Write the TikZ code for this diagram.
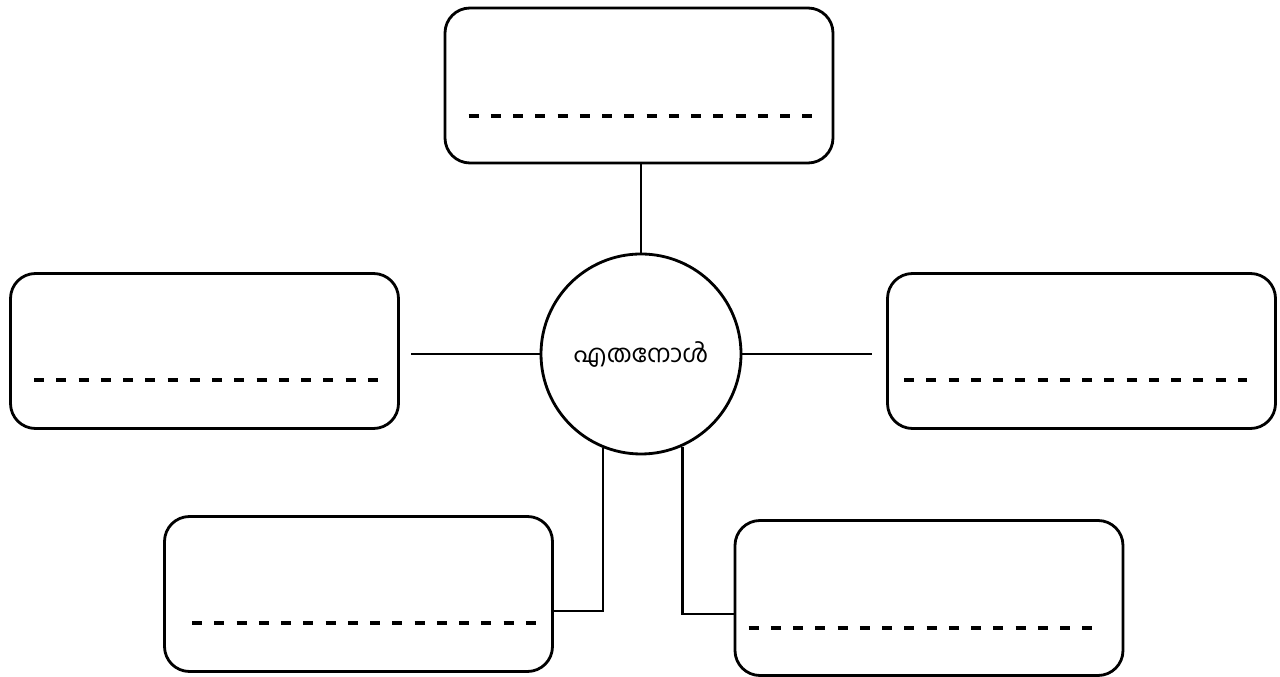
\documentclass[tikz,border=0pt]{standalone}
\usepackage{fontspec}
\newfontfamily\malfont[Script=Malayalam]{Hind Kochi}
\usepackage{tikz}
\usetikzlibrary{calc}

\begin{document}
\begin{tikzpicture}[line width=1.6pt,
    box/.style={draw, rounded corners=0.5cm, minimum width=7.76cm, minimum height=3.1cm},
    blank/.style={dash pattern=on 0.2cm off 0.245cm, line width=2pt}]
    \useasboundingbox (0,0) rectangle (25.6,13.54);
    \node[draw, circle, minimum size=4cm, inner sep=0pt, font=\malfont\fontsize{14}{17}\selectfont] (c) at (12.82,6.46) {എതനോൾ};
    \node[box] (top) at (12.78,11.83) {};
    \node[box] (left) at (4.09,6.52) {};
    \node[box] (right) at (21.63,6.52) {};
    \node[box] (bl) at (7.17,1.66) {};
    \node[box] (br) at (18.58,1.58) {};
    % blanks to fill in
    \draw[blank] ($(top.west)+(0.5,-0.61)$) -- ($(top.east)+(-0.42,-0.61)$);
    \draw[blank] ($(left.west)+(0.5,-0.58)$) -- ($(left.east)+(-0.42,-0.58)$);
    \draw[blank] ($(right.west)+(0.36,-0.58)$) -- ($(right.east)+(-0.6,-0.58)$);
    \draw[blank] ($(bl.west)+(0.58,-0.58)$) -- ($(bl.east)+(-0.3,-0.58)$);
    \draw[blank] ($(br.west)+(0.3,-0.6)$) -- ($(br.east)+(-0.56,-0.6)$);
    % connectors
    \draw (c.north) -- (c.north |- top.south);
    \draw (c.west) -- ($(c.west -| left.east)+(0.22,0)$);
    \draw (c.east) -- ($(c.east -| right.west)+(-0.28,0)$);
    \draw (c.248.6) |- ($(bl.east)+(0,-0.34)$);
    \draw (c.294.8) |- ($(br.west)+(0,-0.32)$);
  \end{tikzpicture}
\end{document}
